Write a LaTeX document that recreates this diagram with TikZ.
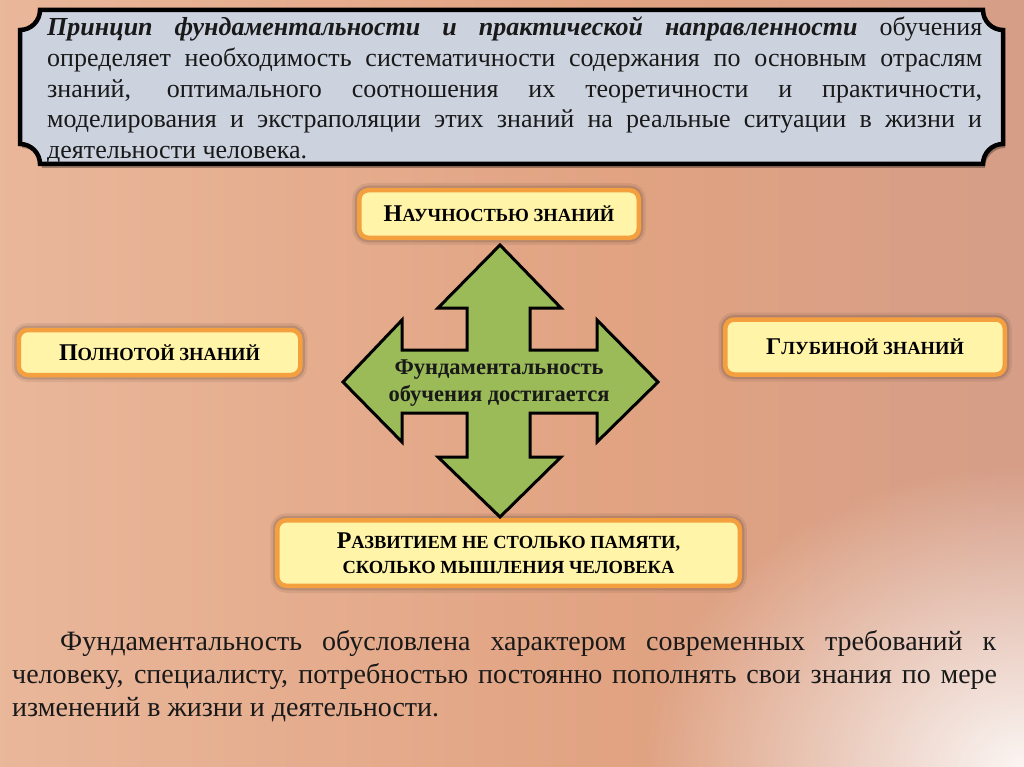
\documentclass[tikz,border=0pt]{standalone}
\usepackage{fontspec}
\setmainfont{Liberation Serif}
\usetikzlibrary{fadings}
\definecolor{bgA}{HTML}{F0C7AE}
\definecolor{bgB}{HTML}{E1A382}
\definecolor{bgC}{HTML}{D49D88}
\definecolor{bgD}{HTML}{CBA49C}
\definecolor{plaque}{HTML}{CCD3DF}
\definecolor{boxfill}{HTML}{FFF4A8}
\definecolor{boxedge}{HTML}{F4A03F}
\definecolor{crossgreen}{HTML}{9BBB59}
\pgfdeclarehorizontalshading{bgshade}{100bp}{color(0bp)=(bgA); color(55bp)=(bgB); color(78bp)=(bgC); color(100bp)=(bgD)}
\tikzfading[name=whiteglow, inner color=transparent!0, outer color=transparent!100]
\newcommand\bigL[1]{{\fontsize{24}{27}\selectfont #1}}
\newcommand\plaquepath{(40,10) -- (983,10) .. controls (983,21) and (992,30) .. (1003,30) -- (1003,144) .. controls (992,144) and (983,153) .. (983,164) -- (40,164) .. controls (40,153) and (31,144) .. (20,144) -- (20,30) .. controls (31,30) and (40,21) .. (40,10) -- cycle}
\tikzset{
 yellowbox/.style={draw=boxedge, line width=4.5pt, fill=boxfill, rounded corners=9pt, inner sep=0pt, align=center,
   font=\bfseries\fontsize{18.5}{25}\selectfont,
   preaction={draw=black, draw opacity=0.07, line width=14pt},
   preaction={draw=black, draw opacity=0.12, line width=9pt}},
 topline/.style={anchor=base west, inner sep=0pt, font=\fontsize{26}{31}\selectfont, text=black!90},
 bodyline/.style={anchor=base west, inner sep=0pt, font=\fontsize{28}{32}\selectfont, text=black!90},
}
\begin{document}
\begin{tikzpicture}[x=1pt,y=-1pt]
\useasboundingbox (0,0) rectangle (1024,767);
\shade[shading=bgshade] (0,0) rectangle (1024,767);
\fill[white, path fading=whiteglow, opacity=0.9] (1024,767) ellipse [x radius=380, y radius=300];
% plaque
\fill[black, opacity=0.3, shift={(2,4)}] \plaquepath;
\draw[fill=plaque, line width=4.5pt] \plaquepath;
\node[topline] (t1) at (47,36) {\makebox[935pt][s]{\textbf{\textit{Принцип фундаментальности и практической направленности}} обучения}};
\node[topline] (t2) at (47,67) {\makebox[935pt][s]{определяет необходимость систематичности содержания по основным отраслям}};
\node[topline] (t3) at (47,98) {\makebox[935pt][s]{знаний, оптимального соотношения их теоретичности и практичности,}};
\node[topline] (t4) at (47,128) {\makebox[935pt][s]{моделирования и экстраполяции этих знаний на реальные ситуации в жизни и}};
\node[topline] (t5) at (47,159) {деятельности человека.};
% boxes
\node[yellowbox, minimum width=279.5pt, minimum height=47.5pt] (nauch) at (499,214) {\bigL{Н}АУЧНОСТЬЮ ЗНАНИЙ};
\node[yellowbox, minimum width=281.5pt, minimum height=45pt] (poln) at (159.5,352.5) {\bigL{П}ОЛНОТОЙ ЗНАНИЙ};
\node[yellowbox, minimum width=279.5pt, minimum height=55pt] (glub) at (865,347) {\bigL{Г}ЛУБИНОЙ ЗНАНИЙ};
\node[yellowbox, minimum width=462.5pt, minimum height=65.5pt] (razv) at (508.5,553) {\bigL{Р}АЗВИТИЕМ НЕ СТОЛЬКО ПАМЯТИ,\\СКОЛЬКО МЫШЛЕНИЯ ЧЕЛОВЕКА};
% cross
\draw[fill=crossgreen, line width=3pt, line join=miter]
 (500,245) -- (561,308) -- (530,308) -- (530,350) -- (597,350) -- (597,320) -- (658,382) -- (597,442) -- (597,413) -- (530,413) -- (530,457) -- (561,457) -- (500,517) -- (438,457) -- (467,457) -- (467,413) -- (402,413) -- (402,442) -- (343,382) -- (402,320) -- (402,350) -- (467,350) -- (467,308) -- (438,308) -- cycle;
\node[font=\bfseries\fontsize{22.5}{27}\selectfont, align=center, text=black!90] (center) at (499,383) {Фундаментальность\\обучения достигается};
% paragraph
\node[bodyline] (p1) at (60,650) {\makebox[936pt][s]{Фундаментальность обусловлена характером современных требований к}};
\node[bodyline] (p2) at (12,683) {\makebox[985pt][s]{человеку, специалисту, потребностью постоянно пополнять свои знания по мере}};
\node[bodyline] (p3) at (12,716) {изменений в жизни и деятельности.};
\end{tikzpicture}
\end{document}
